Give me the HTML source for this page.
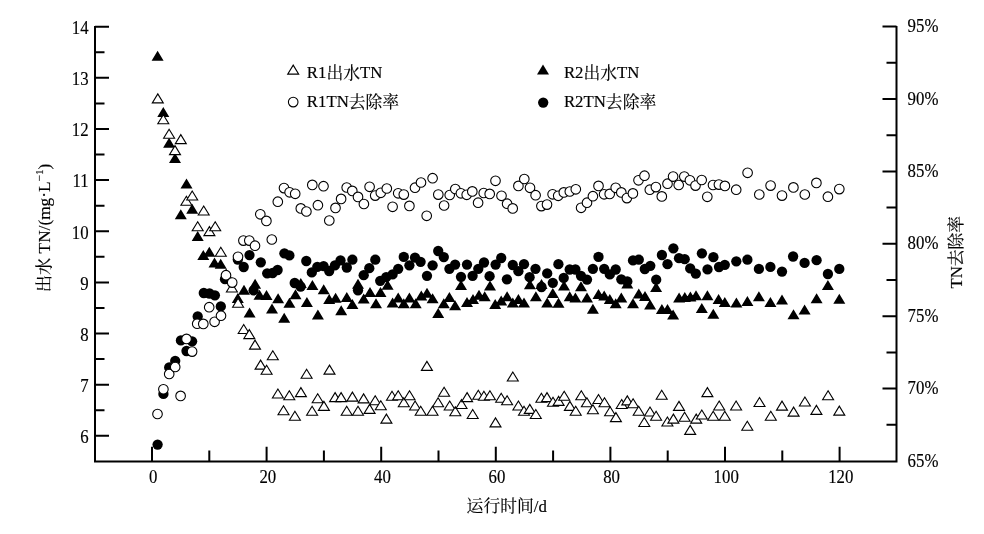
<!DOCTYPE html>
<html><head><meta charset="utf-8"><title>chart</title>
<style>html,body{margin:0;padding:0;background:#fff;}svg{display:block;}text{stroke:#000;stroke-width:0.15px;}</style>
</head><body>
<svg width="984" height="534" viewBox="0 0 984 534">
<rect width="984" height="534" fill="#fff"/>
<path d="M157.6 50.7L163.6 60.7L151.6 60.7ZM163.3 106.9L169.3 116.9L157.3 116.9ZM169.1 137.8L175.1 147.8L163.1 147.8ZM175 153L181 163L169 163ZM180.8 209.2L186.8 219.2L174.8 219.2ZM186.5 178.5L192.5 188.5L180.5 188.5ZM192.2 203.8L198.2 213.8L186.2 213.8ZM197.7 231.1L203.7 241.1L191.7 241.1ZM203.3 250L209.3 260L197.3 260ZM209.3 246.8L215.3 256.8L203.3 256.8ZM214.5 257.4L220.5 267.4L208.5 267.4ZM220.7 258.8L226.7 268.8L214.7 268.8ZM226.2 268.4L232.2 278.4L220.2 278.4ZM237.8 293L243.8 303L231.8 303ZM244 284.7L250 294.7L238 294.7ZM249.6 307.4L255.6 317.4L243.6 317.4ZM255.1 278.8L261.1 288.8L249.1 288.8ZM259.5 289.8L265.5 299.8L253.5 299.8ZM266.5 290L272.5 300L260.5 300ZM272 303.4L278 313.4L266 313.4ZM278.1 293.3L284.1 303.3L272.1 303.3ZM284.2 312.8L290.2 322.8L278.2 322.8ZM289.4 297.7L295.4 307.7L283.4 307.7ZM295.5 289.2L301.5 299.2L289.5 299.2ZM300.8 278L306.8 288L294.8 288ZM306.9 297L312.9 307L300.9 307ZM312.4 280L318.4 290L306.4 290ZM317.9 309.6L323.9 319.6L311.9 319.6ZM323.7 284.2L329.7 294.2L317.7 294.2ZM329.2 294.1L335.2 304.1L323.2 304.1ZM335.6 292.7L341.6 302.7L329.6 302.7ZM341.2 305.3L347.2 315.3L335.2 315.3ZM346.8 292L352.8 302L340.8 302ZM352.4 299L358.4 309L346.4 309ZM358 278.8L364 288.8L352 288.8ZM363.7 293.4L369.7 303.4L357.7 303.4ZM370 287L376 297L364 297ZM376 298.2L382 308.2L370 308.2ZM380.5 287L386.5 297L374.5 297ZM387.6 279.7L393.6 289.7L381.6 289.7ZM392.6 297.5L398.6 307.5L386.6 307.5ZM398.2 292.6L404.2 302.6L392.2 302.6ZM403.8 298.2L409.8 308.2L397.8 308.2ZM409.4 292.6L415.4 302.6L403.4 302.6ZM415.7 298.2L421.7 308.2L409.7 308.2ZM421.3 290.5L427.3 300.5L415.3 300.5ZM427 287.7L433 297.7L421 297.7ZM432.6 293.3L438.6 303.3L426.6 303.3ZM438.2 308L444.2 318L432.2 318ZM443.8 298.2L449.8 308.2L437.8 308.2ZM449.4 291.9L455.4 301.9L443.4 301.9ZM455.1 300.3L461.1 310.3L449.1 310.3ZM461 280L467 290L455 290ZM467 297L473 307L461 307ZM473 294L479 304L467 304ZM479 289.8L485 299.8L473 299.8ZM484.7 291.2L490.7 301.2L478.7 301.2ZM490 280.6L496 290.6L484 290.6ZM495.2 298.9L501.2 308.9L489.2 308.9ZM501.2 295.4L507.2 305.4L495.2 305.4ZM507.1 291.2L513.1 301.2L501.1 301.2ZM512.8 297.5L518.8 307.5L506.8 307.5ZM518.4 294L524.4 304L512.4 304ZM524 297.5L530 307.5L518 307.5ZM529.9 279.2L535.9 289.2L523.9 289.2ZM535.9 291.2L541.9 301.2L529.9 301.2ZM541.5 279L547.5 289L535.5 289ZM547.2 297.5L553.2 307.5L541.2 307.5ZM552.8 288L558.8 298L546.8 298ZM558.5 297.8L564.5 307.8L552.5 307.8ZM564 280.6L570 290.6L558 290.6ZM569.7 291.2L575.7 301.2L563.7 301.2ZM575.4 292.6L581.4 302.6L569.4 302.6ZM581 281.3L587 291.3L575 291.3ZM587 292.6L593 302.6L581 302.6ZM592.9 303.8L598.9 313.8L586.9 313.8ZM598.5 289.1L604.5 299.1L592.5 299.1ZM604.2 290.5L610.2 300.5L598.2 300.5ZM609.8 294L615.8 304L603.8 304ZM615.7 298.2L621.7 308.2L609.7 308.2ZM621.3 292.6L627.3 302.6L615.3 302.6ZM627.3 278.5L633.3 288.5L621.3 288.5ZM633 298.2L639 308.2L627 308.2ZM638.8 288.4L644.8 298.4L632.8 298.4ZM645 291L651 301L639 301ZM650.1 299.5L656.1 309.5L644.1 309.5ZM656.1 282L662.1 292L650.1 292ZM661.9 304L667.9 314L655.9 314ZM667.5 304L673.5 314L661.5 314ZM673.1 309.4L679.1 319.4L667.1 319.4ZM679.1 292.5L685.1 302.5L673.1 302.5ZM684.8 292L690.8 302L678.8 302ZM690.4 291.4L696.4 301.4L684.4 301.4ZM696 290.3L702 300.3L690 300.3ZM701.8 303L707.8 313L695.8 313ZM707.4 290.3L713.4 300.3L701.4 300.3ZM713.3 308.8L719.3 318.8L707.3 318.8ZM718.6 294L724.6 304L712.6 304ZM724.8 297L730.8 307L718.8 307ZM736.4 297.6L742.4 307.6L730.4 307.6ZM747.4 296.1L753.4 306.1L741.4 306.1ZM758.9 291.3L764.9 301.3L752.9 301.3ZM770.4 296.9L776.4 306.9L764.4 306.9ZM782 294.5L788 304.5L776 304.5ZM793.5 309.2L799.5 319.2L787.5 319.2ZM804.6 304.4L810.6 314.4L798.6 314.4ZM816.6 293.2L822.6 303.2L810.6 303.2ZM827.9 279.9L833.9 289.9L821.9 289.9ZM839.3 293.7L845.3 303.7L833.3 303.7Z" fill="#000"/>
<g fill="#000"><circle cx="157.6" cy="444.6" r="5.15"/><circle cx="163.4" cy="393.9" r="5.15"/><circle cx="169.2" cy="367.5" r="5.15"/><circle cx="175.2" cy="360.9" r="5.15"/><circle cx="180.9" cy="340.4" r="5.15"/><circle cx="186.5" cy="351" r="5.15"/><circle cx="192.1" cy="341.3" r="5.15"/><circle cx="197.7" cy="316.5" r="5.15"/><circle cx="203.8" cy="293" r="5.15"/><circle cx="209.5" cy="293.5" r="5.15"/><circle cx="214.9" cy="295.3" r="5.15"/><circle cx="220.8" cy="306.4" r="5.15"/><circle cx="225" cy="279.2" r="5.15"/><circle cx="237.8" cy="259.5" r="5.15"/><circle cx="243.7" cy="267" r="5.15"/><circle cx="249.5" cy="255.1" r="5.15"/><circle cx="253.6" cy="290.4" r="5.15"/><circle cx="260.8" cy="262.3" r="5.15"/><circle cx="267.2" cy="273.3" r="5.15"/><circle cx="272.6" cy="273" r="5.15"/><circle cx="277.6" cy="270" r="5.15"/><circle cx="284.4" cy="253.3" r="5.15"/><circle cx="289.4" cy="255.4" r="5.15"/><circle cx="294.7" cy="283" r="5.15"/><circle cx="300.6" cy="286.7" r="5.15"/><circle cx="306.3" cy="261" r="5.15"/><circle cx="311.8" cy="272.4" r="5.15"/><circle cx="317.3" cy="266.8" r="5.15"/><circle cx="323.6" cy="266.1" r="5.15"/><circle cx="329.2" cy="271" r="5.15"/><circle cx="334.9" cy="265.4" r="5.15"/><circle cx="340.5" cy="260.4" r="5.15"/><circle cx="346.8" cy="267.5" r="5.15"/><circle cx="352.4" cy="259.7" r="5.15"/><circle cx="358" cy="290.3" r="5.15"/><circle cx="363.7" cy="275.2" r="5.15"/><circle cx="369.3" cy="268.2" r="5.15"/><circle cx="375.3" cy="259.7" r="5.15"/><circle cx="380.2" cy="280.8" r="5.15"/><circle cx="386.2" cy="277.2" r="5.15"/><circle cx="392.6" cy="274.4" r="5.15"/><circle cx="398.2" cy="268.8" r="5.15"/><circle cx="403.8" cy="256.9" r="5.15"/><circle cx="409.4" cy="265.3" r="5.15"/><circle cx="415" cy="257.6" r="5.15"/><circle cx="420.6" cy="261.8" r="5.15"/><circle cx="427" cy="275.8" r="5.15"/><circle cx="432.6" cy="265.3" r="5.15"/><circle cx="438.2" cy="251" r="5.15"/><circle cx="443.8" cy="257.1" r="5.15"/><circle cx="449.4" cy="268.8" r="5.15"/><circle cx="455.1" cy="264.6" r="5.15"/><circle cx="461" cy="276.8" r="5.15"/><circle cx="467" cy="264.6" r="5.15"/><circle cx="472.6" cy="275.8" r="5.15"/><circle cx="478.3" cy="268.8" r="5.15"/><circle cx="484" cy="262.5" r="5.15"/><circle cx="489.6" cy="276.2" r="5.15"/><circle cx="495.6" cy="264.6" r="5.15"/><circle cx="501.2" cy="258" r="5.15"/><circle cx="506.9" cy="279.3" r="5.15"/><circle cx="512.8" cy="265" r="5.15"/><circle cx="518.4" cy="271.2" r="5.15"/><circle cx="524" cy="264.2" r="5.15"/><circle cx="529.6" cy="277.2" r="5.15"/><circle cx="535.5" cy="268.8" r="5.15"/><circle cx="541.5" cy="287" r="5.15"/><circle cx="547.2" cy="273.4" r="5.15"/><circle cx="552.8" cy="282.8" r="5.15"/><circle cx="558.4" cy="264.2" r="5.15"/><circle cx="563.7" cy="277.9" r="5.15"/><circle cx="569.7" cy="269.5" r="5.15"/><circle cx="575.4" cy="269.5" r="5.15"/><circle cx="581" cy="275.8" r="5.15"/><circle cx="587" cy="279.6" r="5.15"/><circle cx="592.9" cy="268.8" r="5.15"/><circle cx="598.5" cy="256.9" r="5.15"/><circle cx="604.2" cy="268.8" r="5.15"/><circle cx="609.8" cy="274.4" r="5.15"/><circle cx="615.7" cy="269.5" r="5.15"/><circle cx="621.3" cy="279.3" r="5.15"/><circle cx="627.3" cy="281.4" r="5.15"/><circle cx="633" cy="260.4" r="5.15"/><circle cx="638.8" cy="259.7" r="5.15"/><circle cx="644.8" cy="269" r="5.15"/><circle cx="650.3" cy="265.8" r="5.15"/><circle cx="656.2" cy="279.7" r="5.15"/><circle cx="661.9" cy="255" r="5.15"/><circle cx="667.5" cy="264.2" r="5.15"/><circle cx="673.4" cy="248.3" r="5.15"/><circle cx="679" cy="258.2" r="5.15"/><circle cx="684.7" cy="259.2" r="5.15"/><circle cx="690.2" cy="268.4" r="5.15"/><circle cx="695.8" cy="273.6" r="5.15"/><circle cx="701.9" cy="253.3" r="5.15"/><circle cx="707.5" cy="269.4" r="5.15"/><circle cx="713.4" cy="257.2" r="5.15"/><circle cx="719" cy="267" r="5.15"/><circle cx="724.8" cy="264.8" r="5.15"/><circle cx="736.3" cy="261.3" r="5.15"/><circle cx="747.4" cy="259.7" r="5.15"/><circle cx="758.9" cy="268.9" r="5.15"/><circle cx="770.4" cy="266.9" r="5.15"/><circle cx="782" cy="271.6" r="5.15"/><circle cx="793.1" cy="256.5" r="5.15"/><circle cx="804.6" cy="262.9" r="5.15"/><circle cx="816.6" cy="260.2" r="5.15"/><circle cx="827.9" cy="274" r="5.15"/><circle cx="839.3" cy="268.9" r="5.15"/></g>
<g fill="#fff" stroke="#000" stroke-width="1.1" stroke-linejoin="miter"><path d="M157.8 93.9L163.3 102.9L152.3 102.9Z"/><path d="M163.3 114.7L168.8 123.7L157.8 123.7Z"/><path d="M169.1 129.2L174.6 138.2L163.6 138.2Z"/><path d="M175 145.6L180.5 154.6L169.5 154.6Z"/><path d="M180.8 134.6L186.3 143.6L175.3 143.6Z"/><path d="M186.4 196.2L191.9 205.2L180.9 205.2Z"/><path d="M192.2 191L197.7 200L186.7 200Z"/><path d="M197.7 221.8L203.2 230.8L192.2 230.8Z"/><path d="M203.7 206L209.2 215L198.2 215Z"/><path d="M209.4 226.6L214.9 235.6L203.9 235.6Z"/><path d="M215.2 221.8L220.7 230.8L209.7 230.8Z"/><path d="M220.8 247.3L226.3 256.3L215.3 256.3Z"/><path d="M231.9 283L237.4 292L226.4 292Z"/><path d="M238.1 298.2L243.6 307.2L232.6 307.2Z"/><path d="M243.7 324.5L249.2 333.5L238.2 333.5Z"/><path d="M249.3 329.6L254.8 338.6L243.8 338.6Z"/><path d="M255 340.1L260.5 349.1L249.5 349.1Z"/><path d="M260.6 360.1L266.1 369.1L255.1 369.1Z"/><path d="M266.6 365.2L272.1 374.2L261.1 374.2Z"/><path d="M272.8 350.8L278.3 359.8L267.3 359.8Z"/><path d="M277.9 389L283.4 398L272.4 398Z"/><path d="M283.5 405.7L289 414.7L278 414.7Z"/><path d="M289.3 390.7L294.8 399.7L283.8 399.7Z"/><path d="M294.9 411.3L300.4 420.3L289.4 420.3Z"/><path d="M300.9 387.6L306.4 396.6L295.4 396.6Z"/><path d="M306.6 369.2L312.1 378.2L301.1 378.2Z"/><path d="M312.1 406.3L317.6 415.3L306.6 415.3Z"/><path d="M317.7 393.7L323.2 402.7L312.2 402.7Z"/><path d="M323.9 401.4L329.4 410.4L318.4 410.4Z"/><path d="M329.5 365.1L335 374.1L324 374.1Z"/><path d="M335.1 392.6L340.6 401.6L329.6 401.6Z"/><path d="M341.1 392.6L346.6 401.6L335.6 401.6Z"/><path d="M346.7 406.3L352.2 415.3L341.2 415.3Z"/><path d="M352.4 392.1L357.9 401.1L346.9 401.1Z"/><path d="M358 406.3L363.5 415.3L352.5 415.3Z"/><path d="M363.6 393.9L369.1 402.9L358.1 402.9Z"/><path d="M369.6 404.4L375.1 413.4L364.1 413.4Z"/><path d="M375.2 395.8L380.7 404.8L369.7 404.8Z"/><path d="M380.8 400.7L386.3 409.7L375.3 409.7Z"/><path d="M386.4 414.1L391.9 423.1L380.9 423.1Z"/><path d="M392 391.3L397.5 400.3L386.5 400.3Z"/><path d="M398.2 390.7L403.7 399.7L392.7 399.7Z"/><path d="M403.8 397.7L409.3 406.7L398.3 406.7Z"/><path d="M409.5 390.7L415 399.7L404 399.7Z"/><path d="M415.1 401L420.6 410L409.6 410Z"/><path d="M420.7 406.3L426.2 415.3L415.2 415.3Z"/><path d="M426.9 361.4L432.4 370.4L421.4 370.4Z"/><path d="M432.5 406.3L438 415.3L427 415.3Z"/><path d="M438.1 397.7L443.6 406.7L432.6 406.7Z"/><path d="M444.1 387.3L449.6 396.3L438.6 396.3Z"/><path d="M449.7 401L455.2 410L444.2 410Z"/><path d="M455.3 406.7L460.8 415.7L449.8 415.7Z"/><path d="M461.5 399.5L467 408.5L456 408.5Z"/><path d="M467.1 392.6L472.6 401.6L461.6 401.6Z"/><path d="M472.7 409.5L478.2 418.5L467.2 418.5Z"/><path d="M478.3 390.2L483.8 399.2L472.8 399.2Z"/><path d="M483.9 391.3L489.4 400.3L478.4 400.3Z"/><path d="M489.9 390.7L495.4 399.7L484.4 399.7Z"/><path d="M495.5 417.9L501 426.9L490 426.9Z"/><path d="M501.2 393.2L506.7 402.2L495.7 402.2Z"/><path d="M507.1 395.8L512.6 404.8L501.6 404.8Z"/><path d="M512.8 372L518.3 381L507.3 381Z"/><path d="M518.4 401L523.9 410L512.9 410Z"/><path d="M524 406.3L529.5 415.3L518.5 415.3Z"/><path d="M529.8 404.4L535.3 413.4L524.3 413.4Z"/><path d="M535.8 409.5L541.3 418.5L530.3 418.5Z"/><path d="M541.4 393.2L546.9 402.2L535.9 402.2Z"/><path d="M547 392.6L552.5 401.6L541.5 401.6Z"/><path d="M553 397.3L558.5 406.3L547.5 406.3Z"/><path d="M558.6 396.4L564.1 405.4L553.1 405.4Z"/><path d="M564.2 391.3L569.7 400.3L558.7 400.3Z"/><path d="M569.9 401.4L575.4 410.4L564.4 410.4Z"/><path d="M575.7 406.3L581.2 415.3L570.2 415.3Z"/><path d="M581.3 390.7L586.8 399.7L575.8 399.7Z"/><path d="M586.9 397.7L592.4 406.7L581.4 406.7Z"/><path d="M592.9 404.8L598.4 413.8L587.4 413.8Z"/><path d="M598.5 394.5L604 403.5L593 403.5Z"/><path d="M604.5 397.7L610 406.7L599 406.7Z"/><path d="M610.1 406.7L615.6 415.7L604.6 415.7Z"/><path d="M615.9 412.6L621.4 421.6L610.4 421.6Z"/><path d="M621.7 399.5L627.2 408.5L616.2 408.5Z"/><path d="M627.3 395.9L632.8 404.9L621.8 404.9Z"/><path d="M633.1 398.8L638.6 407.8L627.6 407.8Z"/><path d="M638.7 406.3L644.2 415.3L633.2 415.3Z"/><path d="M644.3 417.5L649.8 426.5L638.8 426.5Z"/><path d="M650 407L655.5 416L644.5 416Z"/><path d="M656.1 411.3L661.6 420.3L650.6 420.3Z"/><path d="M661.7 390.2L667.2 399.2L656.2 399.2Z"/><path d="M667.4 417L672.9 426L661.9 426Z"/><path d="M673.4 414.1L678.9 423.1L667.9 423.1Z"/><path d="M679 401.4L684.5 410.4L673.5 410.4Z"/><path d="M684.6 412.3L690.1 421.3L679.1 421.3Z"/><path d="M690.2 425.4L695.7 434.4L684.7 434.4Z"/><path d="M696.2 414.1L701.7 423.1L690.7 423.1Z"/><path d="M701.8 410L707.3 419L696.3 419Z"/><path d="M707.4 387.6L712.9 396.6L701.9 396.6Z"/><path d="M713.2 411.3L718.7 420.3L707.7 420.3Z"/><path d="M719.2 401L724.7 410L713.7 410Z"/><path d="M724.8 411.3L730.3 420.3L719.3 420.3Z"/><path d="M736.1 401L741.6 410L730.6 410Z"/><path d="M747.3 421.3L752.8 430.3L741.8 430.3Z"/><path d="M759.5 397.5L765 406.5L754 406.5Z"/><path d="M770.8 411.2L776.3 420.2L765.3 420.2Z"/><path d="M782 401.1L787.5 410.1L776.5 410.1Z"/><path d="M793.6 407.1L799.1 416.1L788.1 416.1Z"/><path d="M804.9 397L810.4 406L799.4 406Z"/><path d="M816.4 405.4L821.9 414.4L810.9 414.4Z"/><path d="M828.1 390.7L833.6 399.7L822.6 399.7Z"/><path d="M839.3 406.1L844.8 415.1L833.8 415.1Z"/></g>
<g fill="#fff" stroke="#000" stroke-width="1.1"><circle cx="157.5" cy="414" r="4.8"/><circle cx="163.4" cy="389.3" r="4.8"/><circle cx="169.2" cy="374" r="4.8"/><circle cx="175.2" cy="367" r="4.8"/><circle cx="180.6" cy="395.9" r="4.8"/><circle cx="186.5" cy="338.9" r="4.8"/><circle cx="192.1" cy="351.6" r="4.8"/><circle cx="197.2" cy="323.7" r="4.8"/><circle cx="203.3" cy="323.9" r="4.8"/><circle cx="209.2" cy="307.2" r="4.8"/><circle cx="214.6" cy="321.8" r="4.8"/><circle cx="221" cy="315.7" r="4.8"/><circle cx="226" cy="275.2" r="4.8"/><circle cx="232.2" cy="282.6" r="4.8"/><circle cx="238" cy="256.8" r="4.8"/><circle cx="243.4" cy="240.6" r="4.8"/><circle cx="249.3" cy="240.6" r="4.8"/><circle cx="255" cy="245.7" r="4.8"/><circle cx="260.3" cy="214.3" r="4.8"/><circle cx="266.4" cy="220.9" r="4.8"/><circle cx="271.8" cy="239.5" r="4.8"/><circle cx="277.8" cy="201.7" r="4.8"/><circle cx="284" cy="188.1" r="4.8"/><circle cx="289.6" cy="192.3" r="4.8"/><circle cx="295.2" cy="193.8" r="4.8"/><circle cx="300.8" cy="208.4" r="4.8"/><circle cx="306.4" cy="211.5" r="4.8"/><circle cx="312.3" cy="184.9" r="4.8"/><circle cx="317.9" cy="205.2" r="4.8"/><circle cx="323.5" cy="186.2" r="4.8"/><circle cx="329.3" cy="220.5" r="4.8"/><circle cx="335.5" cy="207.9" r="4.8"/><circle cx="341.1" cy="198.9" r="4.8"/><circle cx="346.7" cy="187.5" r="4.8"/><circle cx="352.3" cy="190.9" r="4.8"/><circle cx="358" cy="196.9" r="4.8"/><circle cx="363.9" cy="204" r="4.8"/><circle cx="369.6" cy="186.8" r="4.8"/><circle cx="375.2" cy="195.6" r="4.8"/><circle cx="380.8" cy="192.8" r="4.8"/><circle cx="386.8" cy="188.5" r="4.8"/><circle cx="392.6" cy="206.8" r="4.8"/><circle cx="398.2" cy="193.3" r="4.8"/><circle cx="403.8" cy="194.6" r="4.8"/><circle cx="409.4" cy="205.9" r="4.8"/><circle cx="415" cy="187.7" r="4.8"/><circle cx="421" cy="182.5" r="4.8"/><circle cx="426.7" cy="215.8" r="4.8"/><circle cx="432.6" cy="178.2" r="4.8"/><circle cx="438.3" cy="194.6" r="4.8"/><circle cx="444.1" cy="205.5" r="4.8"/><circle cx="449.7" cy="195" r="4.8"/><circle cx="455.3" cy="189" r="4.8"/><circle cx="460.9" cy="193.3" r="4.8"/><circle cx="466.7" cy="194.8" r="4.8"/><circle cx="472.3" cy="191.4" r="4.8"/><circle cx="478.1" cy="202.7" r="4.8"/><circle cx="483.7" cy="193" r="4.8"/><circle cx="489.7" cy="193.9" r="4.8"/><circle cx="495.5" cy="180.8" r="4.8"/><circle cx="501.5" cy="195.8" r="4.8"/><circle cx="507.1" cy="203.7" r="4.8"/><circle cx="512.7" cy="208.4" r="4.8"/><circle cx="518.4" cy="185.9" r="4.8"/><circle cx="524.3" cy="179" r="4.8"/><circle cx="530" cy="187.8" r="4.8"/><circle cx="535.6" cy="195.2" r="4.8"/><circle cx="541.4" cy="206.1" r="4.8"/><circle cx="547" cy="204.6" r="4.8"/><circle cx="552.6" cy="194.3" r="4.8"/><circle cx="558.2" cy="195.8" r="4.8"/><circle cx="563.8" cy="192.4" r="4.8"/><circle cx="569.8" cy="191.5" r="4.8"/><circle cx="575.8" cy="189.3" r="4.8"/><circle cx="581.1" cy="207.8" r="4.8"/><circle cx="587" cy="202.7" r="4.8"/><circle cx="592.9" cy="196.2" r="4.8"/><circle cx="598.5" cy="185.9" r="4.8"/><circle cx="604.1" cy="194.3" r="4.8"/><circle cx="609.7" cy="193.9" r="4.8"/><circle cx="615.7" cy="187.8" r="4.8"/><circle cx="621.3" cy="192.4" r="4.8"/><circle cx="626.9" cy="198.1" r="4.8"/><circle cx="632.9" cy="193.4" r="4.8"/><circle cx="638.5" cy="180.3" r="4.8"/><circle cx="644.5" cy="175.7" r="4.8"/><circle cx="649.8" cy="189.7" r="4.8"/><circle cx="655.9" cy="187.1" r="4.8"/><circle cx="661.8" cy="196.4" r="4.8"/><circle cx="667.5" cy="183.7" r="4.8"/><circle cx="673.1" cy="176.6" r="4.8"/><circle cx="678.7" cy="185" r="4.8"/><circle cx="684.3" cy="176.6" r="4.8"/><circle cx="689.9" cy="180.3" r="4.8"/><circle cx="695.5" cy="185.6" r="4.8"/><circle cx="701.7" cy="180" r="4.8"/><circle cx="707.3" cy="196.8" r="4.8"/><circle cx="713" cy="185" r="4.8"/><circle cx="718.9" cy="184.6" r="4.8"/><circle cx="724.9" cy="185.9" r="4.8"/><circle cx="736.2" cy="189.7" r="4.8"/><circle cx="747.6" cy="172.8" r="4.8"/><circle cx="759.3" cy="194.5" r="4.8"/><circle cx="770.6" cy="185.6" r="4.8"/><circle cx="782" cy="195.6" r="4.8"/><circle cx="793.4" cy="187.4" r="4.8"/><circle cx="804.8" cy="194.5" r="4.8"/><circle cx="816.4" cy="182.9" r="4.8"/><circle cx="827.9" cy="196.7" r="4.8"/><circle cx="839.3" cy="189.1" r="4.8"/></g>
<path d="M95 26V462.4M94 461.4H897.5M896.5 26V461.4M95 435.85H109M95 384.7H109M95 333.55H109M95 282.4H109M95 231.25H109M95 180.1H109M95 128.95H109M95 77.8H109M95 26.65H109M95 410.27H104.5M95 359.12H104.5M95 307.97H104.5M95 256.82H104.5M95 205.68H104.5M95 154.53H104.5M95 103.38H104.5M95 52.22H104.5M896.5 388.6H882.5M896.5 316.2H882.5M896.5 243.8H882.5M896.5 171.4H882.5M896.5 99H882.5M896.5 26.6H882.5M896.5 424.8H886.5M896.5 352.4H886.5M896.5 280H886.5M896.5 207.6H886.5M896.5 135.2H886.5M896.5 62.8H886.5M152 461.4V446.8M266.6 461.4V446.8M381.2 461.4V446.8M495.8 461.4V446.8M610.4 461.4V446.8M725 461.4V446.8M839.6 461.4V446.8M209.3 461.4V450.4M323.9 461.4V450.4M438.5 461.4V450.4M553.1 461.4V450.4M667.7 461.4V450.4M782.3 461.4V450.4" fill="none" stroke="#000" stroke-width="2.0"/>
<g font-family="Liberation Serif, serif" font-size="16.8" fill="#000"><text transform="translate(88.6 443.15) scale(1 1.08)" text-anchor="end">6</text><text transform="translate(88.6 392) scale(1 1.08)" text-anchor="end">7</text><text transform="translate(88.6 340.85) scale(1 1.08)" text-anchor="end">8</text><text transform="translate(88.6 289.7) scale(1 1.08)" text-anchor="end">9</text><text transform="translate(88.6 238.55) scale(1 1.08)" text-anchor="end">10</text><text transform="translate(88.6 187.4) scale(1 1.08)" text-anchor="end">11</text><text transform="translate(88.6 136.25) scale(1 1.08)" text-anchor="end">12</text><text transform="translate(88.6 85.1) scale(1 1.08)" text-anchor="end">13</text><text transform="translate(88.6 33.95) scale(1 1.08)" text-anchor="end">14</text><text transform="translate(153.2 483.1) scale(1 1.08)" text-anchor="middle">0</text><text transform="translate(267.8 483.1) scale(1 1.08)" text-anchor="middle">20</text><text transform="translate(382.4 483.1) scale(1 1.08)" text-anchor="middle">40</text><text transform="translate(497 483.1) scale(1 1.08)" text-anchor="middle">60</text><text transform="translate(611.6 483.1) scale(1 1.08)" text-anchor="middle">80</text><text transform="translate(726.2 483.1) scale(1 1.08)" text-anchor="middle">100</text><text transform="translate(840.8 483.1) scale(1 1.08)" text-anchor="middle">120</text><text transform="translate(907.6 466.6) scale(1 1.08)">65%</text><text transform="translate(907.6 394.2) scale(1 1.08)">70%</text><text transform="translate(907.6 321.8) scale(1 1.08)">75%</text><text transform="translate(907.6 249.4) scale(1 1.08)">80%</text><text transform="translate(907.6 177) scale(1 1.08)">85%</text><text transform="translate(907.6 104.6) scale(1 1.08)">90%</text><text transform="translate(907.6 32.2) scale(1 1.08)">95%</text></g>
<text x="466.6" y="512.4" font-family="'Liberation Serif', 'Noto Serif CJK SC', serif" font-size="16.8">运行时间/d</text>
<text transform="translate(50.3 292.3) rotate(-90)" font-family="'Liberation Serif', 'Noto Serif CJK SC', serif" font-size="17.3">出水 TN/(mg·L<tspan font-size="11.3" dy="-7.2">−1</tspan><tspan dy="7.2">)</tspan></text>
<text transform="translate(961.7 288.6) rotate(-90)" font-family="'Liberation Serif', 'Noto Serif CJK SC', serif" font-size="16.8">TN去除率</text>
<path d="M293.2 65.1L298.7 74.1L287.7 74.1Z" fill="#fff" stroke="#000" stroke-width="1.1"/><circle cx="293.2" cy="102.1" r="4.8" fill="#fff" stroke="#000" stroke-width="1.1"/><path d="M543 64.6L549 74.6L537 74.6Z" fill="#000"/><circle cx="543.2" cy="102.6" r="5.15" fill="#000"/><g font-family="'Liberation Serif', 'Noto Serif CJK SC', serif" font-size="16.8"><text x="306.8" y="77.8">R1<tspan dy="1.3">出水</tspan><tspan dy="-1.3">TN</tspan></text><text x="306.8" y="106.8">R1TN<tspan dy="1.3">去除率</tspan></text><text x="563.9" y="77.8">R2<tspan dy="1.3">出水</tspan><tspan dy="-1.3">TN</tspan></text><text x="563.9" y="106.8">R2TN<tspan dy="1.3">去除率</tspan></text></g>
</svg>
</body></html>
